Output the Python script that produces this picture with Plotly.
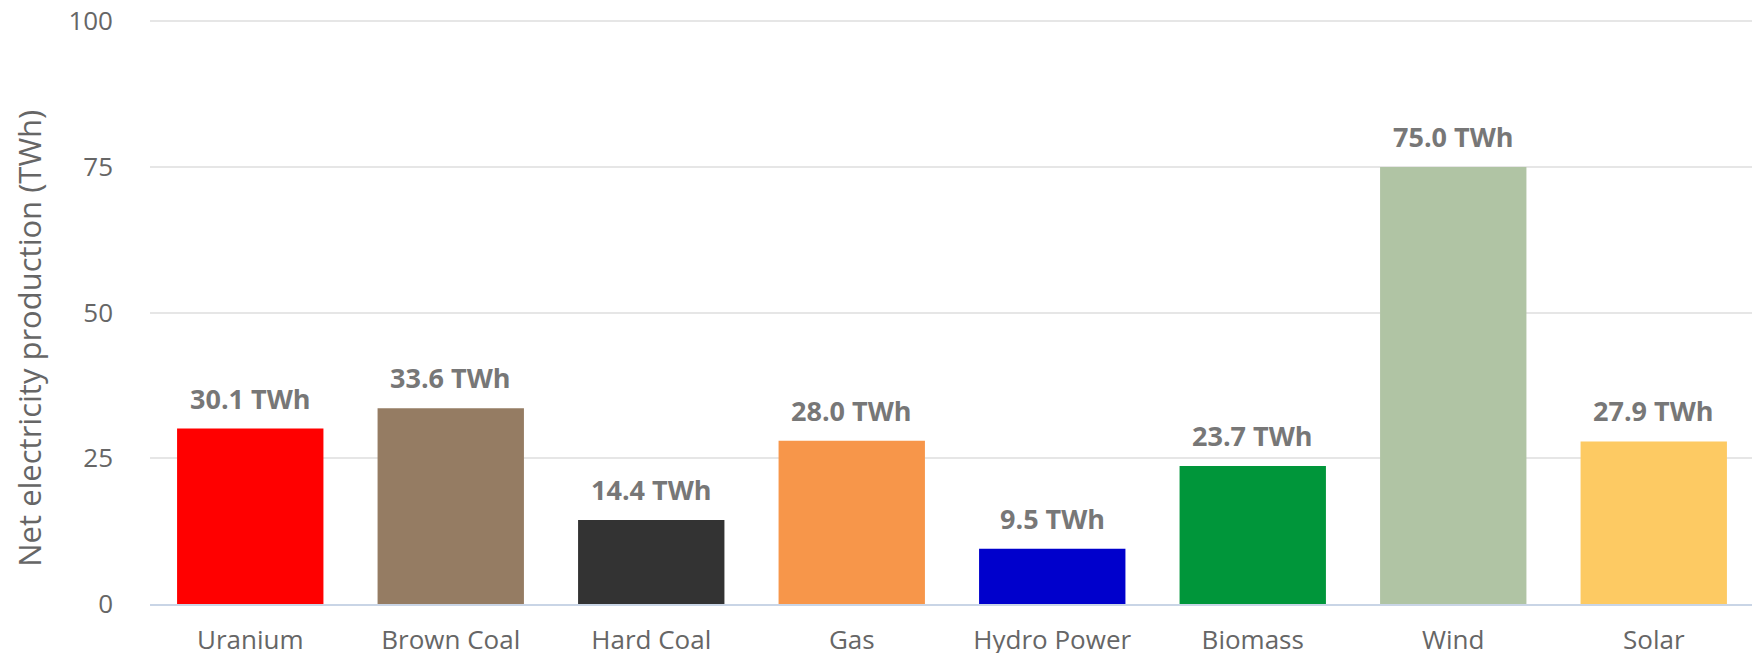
import plotly.graph_objects as go

categories = ["Uranium", "Brown Coal", "Hard Coal", "Gas", "Hydro Power", "Biomass", "Wind", "Solar"]
values = [30.1, 33.6, 14.4, 28.0, 9.5, 23.7, 75.0, 27.9]
colors = ["#FF0000", "#957C63", "#333333", "#F7964A", "#0000CC", "#00963A", "#B0C4A4", "#FDCA63"]
y_ticks = [0, 25, 50, 75, 100]
y_title = "Net electricity production (TWh)"

FONT = "Open Sans"

fig = go.Figure()
fig.add_trace(go.Bar(
    x=categories,
    y=values,
    marker=dict(color=colors, line=dict(width=0)),
    width=0.73,
    cliponaxis=False,
    hoverinfo="x+y",
))

for c, v in zip(categories, values):
    fig.add_annotation(
        x=c, y=v, text=f"{v:.1f} TWh", showarrow=False,
        yanchor="bottom", yshift=10,
        font=dict(family=FONT, size=27, color="#777777", weight=700),
    )

fig.add_annotation(
    text=y_title, textangle=-90, showarrow=False,
    xref="paper", yref="paper", x=-0.0755, y=0.455,
    xanchor="center", yanchor="middle",
    font=dict(family=FONT, size=31, color="#666666"),
)

# the page body adds an 8px offset, so the figure is sized to fill the rest of the window
fig.update_layout(
    width=1752,
    height=645,
    margin=dict(l=142, r=6, t=11, b=49),
    plot_bgcolor="white",
    paper_bgcolor="white",
    showlegend=False,
    font=dict(family=FONT, color="#666666"),
)
fig.update_xaxes(
    showgrid=False,
    showline=True,
    linecolor="#C9D5E6",
    linewidth=1.5,
    tickfont=dict(family=FONT, size=26, color="#666666"),
    ticks="",
    ticklabelstandoff=12,
    ticklabeloverflow="allow",
    automargin=False,
)
fig.update_yaxes(
    range=[0, 100.4],
    tickvals=y_ticks,
    showgrid=True,
    gridcolor="#E6E6E6",
    gridwidth=1.5,
    zeroline=False,
    tickfont=dict(family=FONT, size=26, color="#666666"),
    ticklabelstandoff=36,
    ticklabeloverflow="allow",
    automargin=False,
)

fig.write_html("out.html")
